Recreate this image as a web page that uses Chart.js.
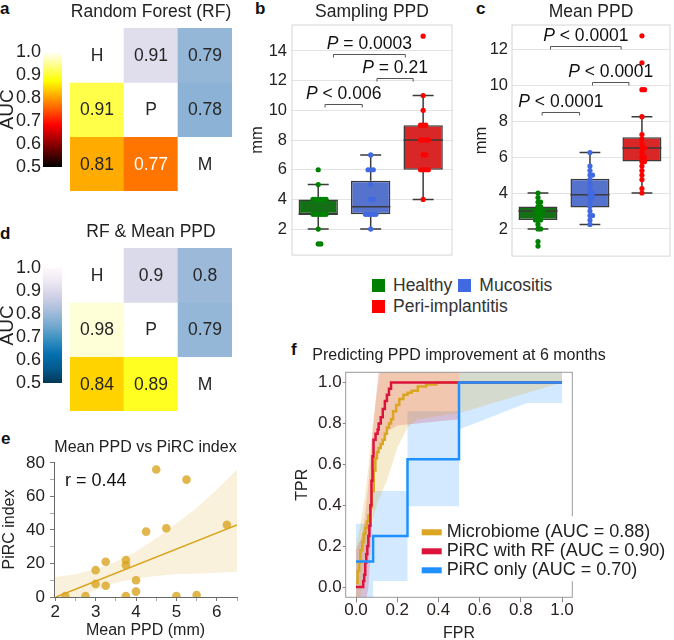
<!DOCTYPE html>
<html>
<head>
<meta charset="utf-8">
<title>PPD figure</title>
<script src="https://cdn.jsdelivr.net/npm/chart.js@4.4.1/dist/chart.umd.min.js"></script>
<style>
  html, body { margin: 0; padding: 0; background: #fff; }
  body { position: relative; width: 674px; height: 640px; overflow: hidden;
         font-family: "Liberation Sans", Arial, sans-serif; color: #222; }
  .panel { position: absolute; }
  .tag { position: absolute; font-weight: bold; font-size: 17px; line-height: 17px; color: #111; }
  #legendBC { position: absolute; left: 372px; top: 275px; width: 200px; font-size: 17.5px; line-height: 21px; color: #333; }
  #legendBC span { display: inline-block; margin-right: 6px; white-space: nowrap; }
  #legendBC i { display: inline-block; width: 13px; height: 13px; margin-right: 8px; vertical-align: -1px; }
</style>
</head>
<body>
<div class="tag" style="left:0;top:0">a</div>
<div class="tag" style="left:255px;top:0">b</div>
<div class="tag" style="left:476px;top:0">c</div>
<div class="tag" style="left:0;top:225px">d</div>
<div class="tag" style="left:1px;top:430px">e</div>
<div class="tag" style="left:291px;top:341px">f</div>

<div class="panel" style="left:0;top:39px;width:64px;height:145px"><canvas id="barA"></canvas></div>
<div class="panel" style="left:60px;top:0;width:182px;height:200px"><canvas id="heatA"></canvas></div>
<div class="panel" style="left:0;top:255px;width:64px;height:145px"><canvas id="barD"></canvas></div>
<div class="panel" style="left:60px;top:220px;width:182px;height:200px"><canvas id="heatD"></canvas></div>
<div class="panel" style="left:240px;top:0;width:220px;height:270px"><canvas id="boxB"></canvas></div>
<div class="panel" style="left:455px;top:0;width:219px;height:270px"><canvas id="boxC"></canvas></div>
<div id="legendBC"></div>
<div class="panel" style="left:0;top:430px;width:250px;height:210px"><canvas id="scatterE"></canvas></div>
<div class="panel" style="left:280px;top:330px;width:394px;height:313px"><canvas id="rocF"></canvas></div>

<script>
// ---- heat maps a / d (rows and columns: H, P, M) ----
const classes = ['H', 'P', 'M'];
const aucRF = [[null, 0.91, 0.79], [0.91, null, 0.78], [0.81, 0.77, null]];
const aucRFPPD = [[null, 0.9, 0.8], [0.98, null, 0.79], [0.84, 0.89, null]];
const aucTicks = [0.5, 0.6, 0.7, 0.8, 0.9, 1.0];

// colour maps (hot for lower triangle, PuBu reversed for upper)
const hotStops = [[0, '#000000'], [0.365, '#ff0000'], [0.746, '#ffff00'], [1, '#ffffff']];
const pubuStops = [[0, '#023858'], [0.125, '#045a8d'], [0.25, '#0570b0'], [0.375, '#3690c0'],
  [0.5, '#74a9cf'], [0.625, '#a6bddb'], [0.75, '#d0d1e6'], [0.875, '#ece7f2'], [1, '#fff7fb']];

// ---- box plots b / c ----
const groups = ['Healthy', 'Mucositis', 'Peri-implantitis'];
const boxColors = ['#147014', '#5573cd', '#d92626'];
const dotColors = ['#008000', '#4169e1', '#ff0000'];

// b: sampling PPD (mm)
const samplingH = [1, 1, 2, 3, 3, 3, 3, 3, 3, 4, 4, 4, 4, 4, 4, 5, 6];
const samplingM = [2, 3, 3, 3, 3, 3, 4, 4, 5, 6, 6, 6, 7];
const samplingP = [4, 6, 6, 6, 6, 7, 7, 8, 8, 8, 8, 9, 9, 9, 10, 11, 15];
// whisker low, Q1, median, Q3, whisker high
const samplingStats = [[2, 3, 3, 4, 5], [2, 3, 3.5, 5.25, 7], [4, 6, 8, 9, 11]];
const samplingTicks = [2, 4, 6, 8, 10, 12, 14];
const samplingPText = ['< 0.006', '= 0.21', '= 0.0003'];
const samplingPFrom = [0.13, 1.12, 0.29];
const samplingPTo = [0.84, 1.81, 1.66];
const samplingPAt = [10.45, 12.2, 13.8];

// c: mean PPD (mm)
const meanH = [1.05, 1.3, 2.0, 2.0, 2.25, 2.5, 2.5, 2.5, 2.75, 2.75, 3.0, 3.0, 3.0, 3.0, 3.25, 3.25, 3.5, 3.5, 3.75, 4.0];
const meanM = [2.25, 2.5, 2.75, 2.75, 3.0, 3.25, 3.5, 3.75, 3.75, 4.0, 4.0, 4.25, 4.5, 4.75, 5.0, 5.0, 5.25, 5.5, 6.25];
const meanP = [4.0, 4.25, 4.75, 5.0, 5.25, 5.5, 5.75, 5.75, 6.0, 6.0, 6.25, 6.5, 6.5, 6.75, 7.0, 7.25, 8.25, 9.75, 9.75, 11.25, 12.75];
const meanStats = [[2.0, 2.5, 3.0, 3.25, 4.0], [2.25, 3.2, 3.9, 4.8, 6.25], [4.0, 5.75, 6.5, 7.1, 8.25]];
const meanTicks = [2, 4, 6, 8, 10, 12];
const meanPText = ['< 0.0001', '< 0.0001', '< 0.0001'];
const meanPFrom = [0.08, 1.05, 0.24];
const meanPTo = [0.8, 1.75, 1.6];
const meanPAt = [8.49, 10.16, 12.16];

// ---- e: mean PPD vs PiRC index ----
const ppdX = [2.25, 2.75, 3.0, 3.0, 3.25, 3.25, 3.75, 3.75, 3.75, 4.0, 4.0, 4.25, 4.5, 4.75, 5.0, 5.25, 5.5, 6.25];
const pircY = [0.6, 0.6, 16, 7.8, 21, 6.7, 22, 19, 0.6, 10, 3.2, 39, 76, 41, 0.5, 70, 1.2, 43];
const fitX = [2.02, 6.5];
const fitY = [0, 43];
const eBandX = [2.0, 2.5, 3.0, 3.5, 4.0, 4.5, 5.0, 5.5, 6.0, 6.5];
const eBandUpper = [12, 13.5, 16.5, 21, 27, 35, 44, 53, 64, 76];
const eBandLower = [-12, -1, 4, 8.5, 11, 12.5, 13.5, 14, 14.5, 15];
const eXTicks = [2, 2.5, 3, 3.5, 4, 4.5, 5, 5.5, 6, 6.5];
const eYTicks = [0, 10, 20, 30, 40, 50, 60, 70, 80];
const rValue = 0.44;

// ---- f: ROC curves ----
const rocTitle = 'Predicting PPD improvement at 6 months';
const rocLabels = ['Microbiome (AUC = 0.88)', 'PiRC with RF (AUC = 0.90)', 'PiRC only (AUC = 0.70)'];
const rocColors = ['#daa520', '#dc143c', '#1e90ff'];
const rocTicks = [0, 0.2, 0.4, 0.6, 0.8, 1.0];
const rocMicroX = [0, 0.008, 0.015, 0.021, 0.03, 0.037, 0.045, 0.053, 0.06, 0.069, 0.077, 0.086, 0.094, 0.102,
  0.11, 0.12, 0.13, 0.14, 0.15, 0.16, 0.17, 0.18, 0.195, 0.21, 0.23, 0.25, 0.27, 0.3, 0.34, 0.39, 1.0];
const rocMicroY = [0.02, 0.08, 0.12, 0.18, 0.22, 0.26, 0.29, 0.32, 0.35, 0.39, 0.47, 0.57, 0.63, 0.66,
  0.68, 0.7, 0.72, 0.75, 0.78, 0.8, 0.82, 0.86, 0.89, 0.92, 0.94, 0.95, 0.96, 0.98, 0.99, 1.0, 1.0];
const rocRFX = [0, 0.03, 0.035, 0.04, 0.045, 0.05, 0.055, 0.06, 0.065, 0.07, 0.075, 0.08, 0.085, 0.095,
  0.105, 0.11, 0.12, 0.13, 0.14, 0.15, 0.16, 0.17, 1.0];
const rocRFY = [0, 0, 0.03, 0.06, 0.12, 0.16, 0.2, 0.25, 0.3, 0.4, 0.52, 0.64, 0.72, 0.75,
  0.77, 0.8, 0.83, 0.87, 0.91, 0.94, 0.97, 1.0, 1.0];
const rocPircX = [0, 0.083, 0.25, 0.5, 1.0];
const rocPircY = [0.125, 0.25, 0.625, 1.0, 1.0];
const microBandX = [0, 0.02, 0.04, 0.06, 0.08, 0.1, 0.12, 0.15, 0.2, 0.25, 0.3, 0.5, 1.0];
const microBandUpper = [0.2, 0.3, 0.42, 0.58, 0.78, 0.95, 1.06, 1.06, 1.06, 1.06, 1.06, 1.06, 1.06];
const microBandLower = [-0.06, -0.06, 0.1, 0.22, 0.32, 0.4, 0.45, 0.52, 0.68, 0.78, 0.82, 0.85, 1.0];
const rfBandX = [0, 0.03, 0.05, 0.06, 0.07, 0.08, 0.09, 0.1, 0.11, 0.15, 0.2, 0.5];
const rfBandUpper = [0.18, 0.25, 0.4, 0.5, 0.62, 0.75, 0.85, 0.95, 1.06, 1.06, 1.06, 1.06];
const rfBandLower = [-0.06, -0.06, -0.06, 0.0, 0.15, 0.4, 0.55, 0.62, 0.68, 0.76, 0.79, 0.82];
const pircUpperX = [0, 0.083, 0.083, 0.25, 0.25, 0.5, 0.5, 1.0];
const pircUpperY = [0.31, 0.31, 0.47, 0.47, 0.86, 0.86, 1.06, 1.06];
const pircLowerX = [0, 0.083, 0.083, 0.25, 0.25, 0.5, 0.5, 0.83, 1.0];
const pircLowerY = [-0.06, -0.06, 0.03, 0.03, 0.395, 0.395, 0.77, 0.9, 0.9];

const FONT = '"Liberation Sans", Arial, sans-serif';
Chart.defaults.font.family = FONT;
Chart.defaults.font.size = 17;
Chart.defaults.color = '#222';
Chart.defaults.animation = false;
Chart.defaults.maintainAspectRatio = false;
Chart.defaults.plugins.legend.display = false;
Chart.defaults.plugins.tooltip.enabled = false;

function hexToRgb(h) { return [1, 3, 5].map(i => parseInt(h.slice(i, i + 2), 16)); }
function cmap(stops, t) {
  t = Math.max(0, Math.min(1, t));
  for (let i = 1; i < stops.length; i++) {
    if (t <= stops[i][0]) {
      const a = hexToRgb(stops[i - 1][1]), b = hexToRgb(stops[i][1]);
      const f = (t - stops[i - 1][0]) / (stops[i][0] - stops[i - 1][0]);
      return 'rgb(' + a.map((v, k) => Math.round(v + (b[k] - v) * f)).join(',') + ')';
    }
  }
  return stops[stops.length - 1][1];
}
const aucT = v => (v - 0.5) / 0.5;
const zip = (xs, ys) => xs.map((x, i) => ({ x, y: ys[i] }));
const polygon = (ux, uy, lx, ly) => zip(ux, uy).concat(zip(lx, ly).reverse());
const fixTicks = list => s => { s.ticks = list.map(v => ({ value: v })); };

// text inside heat map cells
const cellText = {
  id: 'cellText',
  afterDatasetsDraw(chart, args, o) {
    const ctx = chart.ctx;
    ctx.save();
    ctx.font = '17.5px ' + FONT;
    ctx.textAlign = 'center';
    ctx.textBaseline = 'middle';
    o.auc.forEach((row, r) => {
      chart.getDatasetMeta(r).data.forEach((bar, c) => {
        const v = row[c];
        ctx.fillStyle = (c < r && v < 0.8) ? '#ffffff' : '#262626';
        ctx.fillText(c === r ? classes[r] : String(v), bar.x, (bar.y + bar.base) / 2 + 1);
      });
    });
    ctx.restore();
  }
};

// box round the plot area
const frame = {
  id: 'frame',
  afterDatasetsDraw(chart, args, o) {
    if (!o.color) return;
    const { ctx, chartArea: a } = chart;
    ctx.save();
    ctx.strokeStyle = o.color;
    ctx.lineWidth = 1;
    ctx.strokeRect(a.left, a.top, a.right - a.left, a.bottom - a.top);
    ctx.restore();
  }
};

// significance brackets with P values
const pLabels = {
  id: 'pLabels',
  afterDatasetsDraw(chart, args, o) {
    if (!o.text) return;
    const { ctx, scales: { x, y } } = chart;
    const italic = 'italic 17.5px ' + FONT, normal = '17.5px ' + FONT;
    ctx.save();
    ctx.strokeStyle = '#555';
    ctx.lineWidth = 1;
    ctx.fillStyle = '#111';
    ctx.textBaseline = 'middle';
    ctx.textAlign = 'left';
    o.text.forEach((t, i) => {
      const x1 = x.getPixelForValue(o.from[i]), x2 = x.getPixelForValue(o.to[i]);
      const py = Math.round(y.getPixelForValue(o.at[i])) + 0.5;
      ctx.beginPath();
      ctx.moveTo(x1, py + 3); ctx.lineTo(x1, py); ctx.lineTo(x2, py); ctx.lineTo(x2, py + 3);
      ctx.stroke();
      const rest = ' ' + t;
      ctx.font = italic; const wP = ctx.measureText('P').width;
      ctx.font = normal; const wR = ctx.measureText(rest).width;
      const x0 = (x1 + x2) / 2 - (wP + wR) / 2;
      ctx.font = italic; ctx.fillText('P', x0, py - 10);
      ctx.font = normal; ctx.fillText(rest, x0 + wP, py - 10);
    });
    ctx.restore();
  }
};

// filled confidence bands (closed polygons through the dataset's points)
const bands = {
  id: 'bands',
  beforeDatasetsDraw(chart) {
    const { ctx, chartArea: a } = chart;
    chart.data.datasets.forEach((ds, i) => {
      if (!ds.band) return;
      const pts = chart.getDatasetMeta(i).data;
      ctx.save();
      ctx.beginPath();
      ctx.rect(a.left, a.top, a.right - a.left, a.bottom - a.top);
      ctx.clip();
      ctx.beginPath();
      pts.forEach((p, k) => k ? ctx.lineTo(p.x, p.y) : ctx.moveTo(p.x, p.y));
      ctx.closePath();
      ctx.fillStyle = ds.band;
      ctx.fill();
      ctx.restore();
    });
  }
};

// free text placed relative to the plot area
const note = {
  id: 'note',
  afterDatasetsDraw(chart, args, o) {
    if (!o.items) return;
    const { ctx, chartArea: a } = chart;
    ctx.save();
    ctx.textBaseline = 'middle';
    o.items.forEach(it => {
      ctx.font = it.size + 'px ' + FONT;
      ctx.fillStyle = it.color || '#111';
      ctx.textAlign = it.center ? 'center' : 'left';
      const x = it.center ? (a.left + a.right) / 2 : a.left + it.dx;
      ctx.fillText(it.text, x, a.top + it.dy);
    });
    ctx.restore();
  }
};

// legend inside the ROC plot
const rocLegend = {
  id: 'rocLegend',
  afterDraw(chart, args, o) {
    const { ctx, chartArea: a } = chart;
    ctx.save();
    ctx.fillStyle = '#ffffff';
    ctx.fillRect(a.left + 72, a.top + 144, chart.width - a.left - 72, 65);
    ctx.font = '18px ' + FONT;
    ctx.textBaseline = 'middle';
    o.labels.forEach((lab, i) => {
      const y = a.top + 160 + i * 19;
      ctx.fillStyle = o.colors[i];
      ctx.fillRect(a.left + 76, y - 3, 20, 6);
      ctx.fillStyle = '#222';
      ctx.fillText(lab, a.left + 101, y);
    });
    ctx.restore();
  }
};

function heatmap(id, title, auc) {
  const datasets = auc.map((row, r) => ({
    data: row.map(() => [r, r + 1]),
    backgroundColor: row.map((v, c) => c === r ? '#ffffff' : cmap(c < r ? hotStops : pubuStops, aucT(v))),
    grouped: false, barPercentage: 1, categoryPercentage: 1, borderWidth: 0
  }));
  new Chart(document.getElementById(id), {
    type: 'bar',
    data: { labels: classes, datasets },
    options: {
      layout: { padding: { left: 10, right: 10, bottom: 9 } },
      scales: { x: { display: false }, y: { display: false, min: 0, max: 3, reverse: true } },
      plugins: {
        title: { display: true, text: title, color: '#222',
                 font: { size: 17.5, weight: 'normal' }, padding: { top: 1.5, bottom: 5.5 } },
        cellText: { auc }
      }
    },
    plugins: [cellText]
  });
}

function colorbar(id, stops) {
  new Chart(document.getElementById(id), {
    type: 'bar',
    data: { labels: ['AUC'], datasets: [{
      data: [[0.5, 1.0]], barPercentage: 1, categoryPercentage: 1, borderWidth: 0,
      backgroundColor: c => {
        const y = c.chart.scales.y;
        if (!y || !c.chart.chartArea) return stops[0][1];
        const g = c.chart.ctx.createLinearGradient(0, y.getPixelForValue(0.5), 0, y.getPixelForValue(1.0));
        stops.forEach(([t, col]) => g.addColorStop(t, col));
        return g;
      }
    }] },
    options: {
      layout: { padding: { top: 12, right: 2, bottom: 17 } },
      scales: {
        x: { display: false },
        y: { min: 0.5, max: 1.0, afterBuildTicks: fixTicks(aucTicks), afterFit: s => { s.width = 43; },
             grid: { display: false, drawTicks: false }, border: { display: false },
             ticks: { autoSkip: false, padding: 2, font: { size: 18 }, color: '#222', callback: v => v.toFixed(1) },
             title: { display: true, text: 'AUC', color: '#222', font: { size: 19, lineHeight: 0.8 }, padding: 0 } }
      }
    }
  });
}

const jitterSteps = [0, 0.05, -0.05, 0.1, -0.1, 0.15, -0.15, 0.2, -0.2];
function jitter(vals, i) {
  let k = 0;
  for (let j = 0; j < i; j++) if (vals[j] === vals[i]) k++;
  return jitterSteps[k % jitterSteps.length];
}

function boxplot(id, cfg) {
  const pts = cfg.values.map((vals, g) => ({
    type: 'scatter',
    data: vals.map((v, i) => ({ x: g + jitter(vals, i), y: v })),
    pointRadius: 2.6, pointBorderWidth: 0, pointBackgroundColor: dotColors[g]
  }));
  const seg = [];
  const gap = g => ({ x: g, y: null });
  cfg.stats.forEach(([lo, q1, med, q3, hi], g) => {
    seg.push({ x: g, y: lo }, { x: g, y: q1 }, gap(g));
    seg.push({ x: g, y: q3 }, { x: g, y: hi }, gap(g));
    seg.push({ x: g - 0.2, y: lo }, { x: g + 0.2, y: lo }, gap(g));
    seg.push({ x: g - 0.2, y: hi }, { x: g + 0.2, y: hi }, gap(g));
    seg.push({ x: g - 0.375, y: med }, { x: g + 0.375, y: med }, gap(g));
  });
  const lines = { type: 'line', data: seg, borderColor: '#3a3a3a', borderWidth: 1.5, pointRadius: 0, spanGaps: false };
  const boxes = {
    type: 'bar', data: cfg.stats.map((s, g) => ({ x: g, y: [s[1], s[3]] })),
    backgroundColor: boxColors, borderColor: '#3a3a3a', borderWidth: 1.5, borderSkipped: false,
    barPercentage: 0.75, categoryPercentage: 1
  };
  new Chart(document.getElementById(id), {
    type: 'bar',
    data: { datasets: [...pts, lines, boxes] },
    options: {
      layout: { padding: cfg.padding },
      scales: {
        x: { type: 'linear', display: false, offset: false, min: -0.5, max: cfg.xMax,
             afterBuildTicks: fixTicks([0, 1, 2]) },
        y: { min: cfg.yMin, max: cfg.yMax, afterBuildTicks: fixTicks(cfg.ticks), afterFit: s => { s.width = cfg.axisW; },
             grid: { color: '#e3e3e3', drawTicks: false }, border: { display: false },
             ticks: { autoSkip: false, padding: cfg.tickPad, font: { size: 16.5 }, color: '#222' },
             title: { display: true, text: 'mm', color: '#222', font: { size: 16.5 }, padding: { top: cfg.titlePad, bottom: 0 } } }
      },
      plugins: {
        title: { display: true, text: cfg.title, fullSize: false, color: '#222',
                 font: { size: 17.5, weight: 'normal' }, padding: { top: 1.5, bottom: 2.5 } },
        frame: { color: '#d6d6d6' },
        pLabels: cfg.p
      }
    },
    plugins: [frame, pLabels]
  });
}

colorbar('barA', hotStops);
heatmap('heatA', 'Random Forest (RF)', aucRF);
colorbar('barD', pubuStops);
heatmap('heatD', 'RF & Mean PPD', aucRFPPD);

boxplot('boxB', {
  title: 'Sampling PPD', values: [samplingH, samplingM, samplingP], stats: samplingStats,
  ticks: samplingTicks, yMin: 0.25, yMax: 15.75, xMax: 2.55,
  axisW: 52, tickPad: 5, titlePad: 8, padding: { right: 8, bottom: 5 },
  p: { text: samplingPText, from: samplingPFrom, to: samplingPTo, at: samplingPAt }
});
boxplot('boxC', {
  title: 'Mean PPD', values: [meanH, meanM, meanP], stats: meanStats,
  ticks: meanTicks, yMin: 0.49, yMax: 13.35, xMax: 2.54,
  axisW: 57, tickPad: 4, titlePad: 16.8, padding: { right: 1, bottom: 7 },
  p: { text: meanPText, from: meanPFrom, to: meanPTo, at: meanPAt }
});

// shared legend for b and c
const legendBox = document.getElementById('legendBC');
groups.forEach((g, i) => {
  const item = document.createElement('span');
  const sw = document.createElement('i');
  sw.style.background = dotColors[i];
  item.appendChild(sw);
  item.appendChild(document.createTextNode(g));
  legendBox.appendChild(item);
});

new Chart(document.getElementById('scatterE'), {
  type: 'scatter',
  data: { datasets: [
    { data: zip(ppdX, pircY), pointRadius: 4.3, pointBorderWidth: 0, pointBackgroundColor: 'rgba(218,165,32,0.8)' },
    { type: 'line', data: zip(fitX, fitY), borderColor: '#daa520', borderWidth: 1.5, pointRadius: 0 },
    { type: 'line', data: polygon(eBandX, eBandUpper, eBandX, eBandLower), showLine: false, pointRadius: 0,
      band: 'rgba(218,165,32,0.16)' }
  ] },
  options: {
    layout: { padding: { right: 13 } },
    scales: {
      x: { min: 1.97, max: 6.5, afterBuildTicks: fixTicks(eXTicks), afterFit: s => { s.height = 43; },
           grid: { drawOnChartArea: false, tickLength: 4, tickColor: c => Number.isInteger(c.tick.value) ? '#777' : '#aaa' },
           border: { color: '#666' },
           ticks: { autoSkip: false, maxRotation: 0, padding: 1, color: '#222', font: { size: 17 },
                    callback: v => Number.isInteger(v) ? String(v) : '' },
           title: { display: true, text: 'Mean PPD (mm)', color: '#222', font: { size: 16 }, padding: 0 } },
      y: { min: 0, max: 80.5, afterBuildTicks: fixTicks(eYTicks), afterFit: s => { s.width = 54; },
           grid: { drawOnChartArea: false, tickLength: 4, tickColor: c => c.tick.value % 20 === 0 ? '#777' : '#aaa' },
           border: { color: '#666' },
           ticks: { autoSkip: false, padding: 5, color: '#222', font: { size: 17 },
                    callback: v => v % 20 === 0 ? String(v) : '' },
           title: { display: true, text: 'PiRC index', color: '#222', font: { size: 16 }, padding: 0 } }
    },
    plugins: {
      title: { display: true, text: 'Mean PPD vs PiRC index', fullSize: false, color: '#222',
               font: { size: 16, weight: 'normal' }, padding: { top: 8.4, bottom: 4.4 } },
      note: { items: [{ text: 'r = ' + rValue, size: 18, dx: 11, dy: 19 }] }
    }
  },
  plugins: [bands, note]
});

new Chart(document.getElementById('rocF'), {
  type: 'scatter',
  data: { datasets: [
    { type: 'line', data: zip(rocPircX, rocPircY), stepped: 'before', borderColor: rocColors[2], borderWidth: 2.5, pointRadius: 0 },
    { type: 'line', data: zip(rocRFX, rocRFY), stepped: 'before', borderColor: rocColors[1], borderWidth: 2.5, pointRadius: 0 },
    { type: 'line', data: zip(rocMicroX, rocMicroY), stepped: 'before', borderColor: rocColors[0], borderWidth: 2.5, pointRadius: 0 },
    { type: 'line', data: polygon(pircUpperX, pircUpperY, pircLowerX, pircLowerY), showLine: false, pointRadius: 0,
      band: 'rgba(30,144,255,0.2)' },
    { type: 'line', data: polygon(rfBandX, rfBandUpper, rfBandX, rfBandLower), showLine: false, pointRadius: 0,
      band: 'rgba(220,20,60,0.2)' },
    { type: 'line', data: polygon(microBandX, microBandUpper, microBandX, microBandLower), showLine: false, pointRadius: 0,
      band: 'rgba(218,165,32,0.22)' }
  ] },
  options: {
    layout: { padding: { left: 4, right: 101.7, top: 42.3 } },
    scales: {
      x: { min: -0.05, max: 1.05, afterBuildTicks: fixTicks(rocTicks), afterFit: s => { s.height = 45.7; },
           grid: { drawOnChartArea: false, tickLength: 5, color: '#888' }, border: { display: false },
           ticks: { autoSkip: false, maxRotation: 0, padding: 0, color: '#2b2222', font: { size: 17, lineHeight: 1 },
                    callback: v => v.toFixed(1) },
           title: { display: true, text: 'FPR', color: '#222', font: { size: 16 }, padding: 0 } },
      y: { min: -0.05, max: 1.05, afterBuildTicks: fixTicks(rocTicks), afterFit: s => { s.width = 61.7; },
           grid: { drawOnChartArea: false, tickLength: 3, color: '#888' }, border: { display: false },
           ticks: { autoSkip: false, padding: 1, color: '#2b2222', font: { size: 17 }, callback: v => v.toFixed(1) },
           title: { display: true, text: 'TPR', color: '#222', font: { size: 16 }, padding: { top: 9.4, bottom: 0 } } }
    },
    plugins: {
      frame: { color: '#9a9a9a' },
      note: { items: [{ text: rocTitle, size: 16, center: true, dy: -16.3, color: '#222' }] },
      rocLegend: { labels: rocLabels, colors: rocColors }
    }
  },
  plugins: [bands, frame, note, rocLegend]
});
</script>
</body>
</html>
